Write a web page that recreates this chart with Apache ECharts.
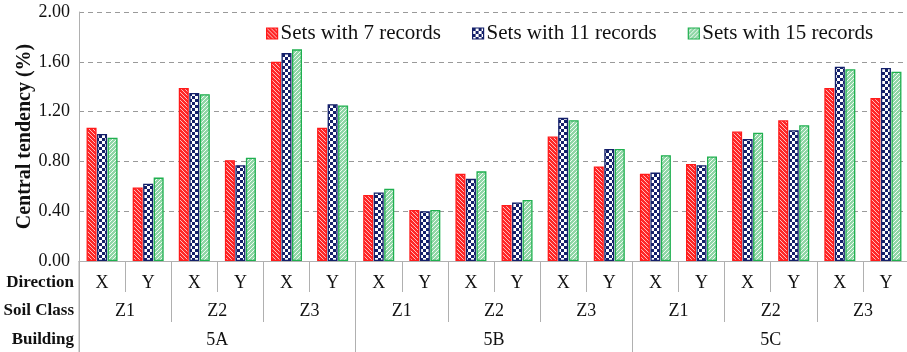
<!DOCTYPE html>
<html>
<head>
<meta charset="utf-8">
<script src="https://cdn.jsdelivr.net/npm/echarts@6/dist/echarts.min.js"></script>
<style>
  html, body { margin: 0; padding: 0; background: #fff; }
  #chart { width: 907px; height: 352px; }
</style>
</head>
<body>
<div id="chart"></div>
<script>
// Category hierarchy along the x axis
const directions = ['X','Y','X','Y','X','Y','X','Y','X','Y','X','Y','X','Y','X','Y','X','Y'];
const soilClasses = ['Z1','Z2','Z3','Z1','Z2','Z3','Z1','Z2','Z3'];
const buildings = ['5A','5B','5C'];

// Central tendency (%) per set size
const seriesNames = ['Sets with 7 records', 'Sets with 11 records', 'Sets with 15 records'];
const sets7  = [1.07, 0.59, 1.39, 0.81, 1.60, 1.07, 0.53, 0.41, 0.70, 0.45, 1.00, 0.76, 0.70, 0.78, 1.04, 1.13, 1.39, 1.31];
const sets11 = [1.02, 0.62, 1.35, 0.77, 1.67, 1.26, 0.55, 0.40, 0.66, 0.47, 1.15, 0.90, 0.71, 0.77, 0.98, 1.05, 1.56, 1.55];
const sets15 = [0.99, 0.67, 1.34, 0.83, 1.70, 1.25, 0.58, 0.41, 0.72, 0.49, 1.13, 0.90, 0.85, 0.84, 1.03, 1.09, 1.54, 1.52];

const yTicks = { min: 0, max: 2, interval: 0.4 };

// Fill patterns
function hatch(bg, fg) {
  const c = document.createElement('canvas');
  c.width = 4; c.height = 4;
  const g = c.getContext('2d');
  g.fillStyle = bg; g.fillRect(0, 0, 4, 4);
  g.strokeStyle = fg; g.lineWidth = 0.9;
  g.beginPath();
  g.moveTo(-1, -1); g.lineTo(5, 5);
  g.moveTo(-1, 3); g.lineTo(1, 5);
  g.moveTo(3, -1); g.lineTo(5, 1);
  g.stroke();
  return c;
}
function checker(a, b) {
  const c = document.createElement('canvas');
  c.width = 6; c.height = 6;
  const g = c.getContext('2d');
  g.fillStyle = a; g.fillRect(0, 0, 6, 6);
  g.fillStyle = b;
  g.fillRect(3, 0, 3, 3);
  g.fillRect(0, 3, 3, 3);
  return c;
}
function stipple(bg, fg) {
  const c = document.createElement('canvas');
  c.width = 4; c.height = 4;
  const g = c.getContext('2d');
  g.fillStyle = bg; g.fillRect(0, 0, 4, 4);
  g.strokeStyle = fg; g.lineWidth = 1;
  g.beginPath();
  g.moveTo(-1, 5); g.lineTo(5, -1);
  g.stroke();
  return c;
}

const fills = [
  { image: hatch('#ff2626', '#ffd0d0'), repeat: 'repeat' },
  { image: checker('#14206a', '#ffffff'), repeat: 'repeat' },
  { image: stipple('#8fd6a6', '#f2fbf4'), repeat: 'repeat' }
];
const borders = ['#ff1a1a', '#14206a', '#1fb04f'];
const seriesData = [sets7, sets11, sets15];

const serif = '"Liberation Serif", "Times New Roman", serif';
const axisGray = '#b0b0b0';

const chart = echarts.init(document.getElementById('chart'), null, { renderer: 'canvas' });

function levelAxis(data, tickLen, margin) {
  return {
    type: 'category',
    data: data,
    position: 'bottom',
    gridIndex: 0,
    axisLine: { show: false },
    axisTick: { show: true, length: tickLen, interval: 0, lineStyle: { color: axisGray, width: 1 } },
    axisLabel: { interval: 0, margin: margin, color: '#111', fontFamily: serif, fontSize: 18 },
    splitLine: { show: false }
  };
}

chart.setOption({
  animation: false,
  textStyle: { fontFamily: serif },
  grid: { left: 79, top: 12, width: 830, height: 249, containLabel: false, outerBoundsMode: 'none' },
  legend: {
    data: seriesNames.map((n, i) => ({ name: n, itemStyle: { color: fills[i], borderColor: borders[i], borderWidth: 1.2 } })),
    left: 261,
    top: 18,
    icon: 'rect',
    itemWidth: 11,
    itemHeight: 11,
    itemGap: 31,
    textStyle: { fontFamily: serif, fontSize: 21, color: '#111', padding: [0, 0, 0, -2] }
  },
  xAxis: [
    {
      type: 'category',
      data: directions,
      position: 'bottom',
      axisLine: { show: true, lineStyle: { color: axisGray, width: 1 } },
      axisTick: { show: true, length: 31, interval: 0, lineStyle: { color: axisGray, width: 1 } },
      axisLabel: { interval: 0, margin: 13, color: '#111', fontFamily: serif, fontSize: 18 },
      splitLine: { show: false }
    },
    levelAxis(soilClasses, 61, 41),
    levelAxis(buildings, 92, 70)
  ],
  yAxis: {
    type: 'value',
    min: yTicks.min,
    max: yTicks.max,
    interval: yTicks.interval,
    name: 'Central tendency (%)',
    nameLocation: 'middle',
    nameGap: 44,
    nameMoveOverlap: false,
    nameTextStyle: { fontFamily: serif, fontSize: 20, fontWeight: 'bold', color: '#111' },
    axisLine: { show: true, lineStyle: { color: axisGray, width: 1 } },
    axisTick: { show: false },
    axisLabel: { formatter: v => v.toFixed(2), color: '#111', fontFamily: serif, fontSize: 18, margin: 9 },
    splitLine: { show: true, lineStyle: { color: '#9a9a9a', type: [5, 4], width: 1 } }
  },
  graphic: [
    { type: 'line', shape: { x1: 79, y1: 261, x2: 79, y2: 352 }, style: { stroke: axisGray, lineWidth: 1 } },
    { type: 'text', right: 907 - 74, top: 274, style: { text: 'Direction', font: 'bold 17px ' + serif, fill: '#111', textAlign: 'right' } },
    { type: 'text', right: 907 - 74, top: 302, style: { text: 'Soil Class', font: 'bold 17px ' + serif, fill: '#111', textAlign: 'right' } },
    { type: 'text', right: 907 - 74, top: 331, style: { text: 'Building', font: 'bold 17px ' + serif, fill: '#111', textAlign: 'right' } }
  ],
  series: seriesNames.map((n, i) => ({
    name: n,
    type: 'bar',
    xAxisIndex: 0,
    data: seriesData[i],
    barWidth: 10,
    barGap: '5%',
    itemStyle: { color: fills[i], borderColor: borders[i], borderWidth: 1.3 }
  }))
});
</script>
</body>
</html>
